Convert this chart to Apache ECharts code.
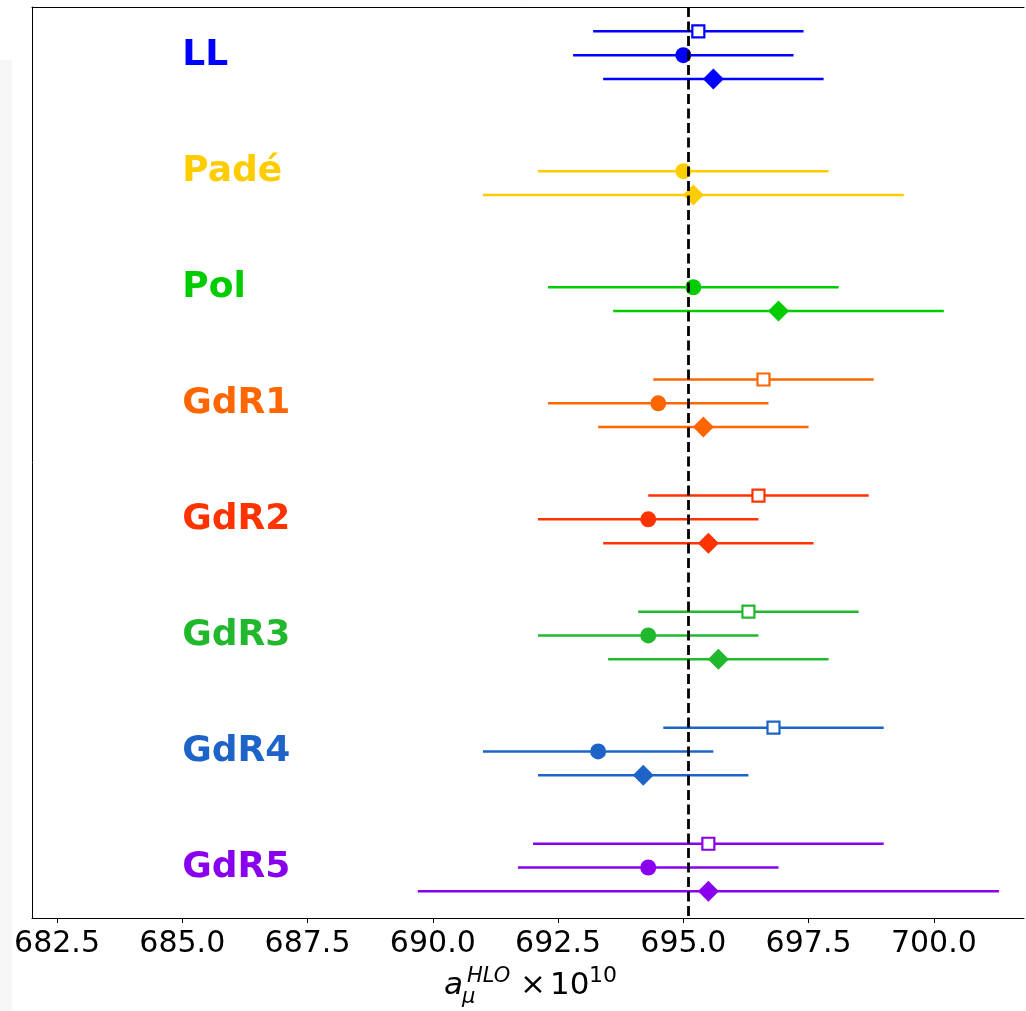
<!DOCTYPE html>
<html>
<head>
<meta charset="utf-8">
<script src="https://cdn.jsdelivr.net/npm/echarts@6/dist/echarts.min.js"></script>
<style>
html, body { margin: 0; padding: 0; background: #fff; }
#chart { width: 1026px; height: 1011px; }
</style>
</head>
<body>
<div id="chart"></div>
<script>
// 方法名称（从上到下）
var groups = ['LL', 'Padé', 'Pol', 'GdR1', 'GdR2', 'GdR3', 'GdR4', 'GdR5'];
var groupColors = ['#0000ff', '#ffcc00', '#00cc00', '#ff6600', '#ff3300', '#22b82d', '#1e64c8', '#8800ee'];

// 空心方块（Padé、Pol 无此点）
var squareVal = [695.3, null, null, 696.6, 696.5, 696.3, 696.8, 695.5];
var squareErr = [2.1, null, null, 2.2, 2.2, 2.2, 2.2, 3.5];
// 圆点
var circleVal = [695.0, 695.0, 695.2, 694.5, 694.3, 694.3, 693.3, 694.3];
var circleErr = [2.2, 2.9, 2.9, 2.2, 2.2, 2.2, 2.3, 2.6];
// 菱形
var diamondVal = [695.6, 695.2, 696.9, 695.4, 695.5, 695.7, 694.2, 695.5];
var diamondErr = [2.2, 4.2, 3.3, 2.1, 2.1, 2.2, 2.1, 5.8];

// 参考竖线
var refValue = 695.1;
// x轴刻度
var xTicks = [682.5, 685.0, 687.5, 690.0, 692.5, 695.0, 697.5, 700.0];
// 文字标签所在的x值
var labelX = 685.0;

// 每组内三行的上下偏移
var rowOffset = { square: -0.205, circle: 0, diamond: 0.205 };

/**
 * 生成误差线数据 [low, high, y, 组序号]
 */
function buildBars(vals, errs, off) {
	var out = [];
	for (var i = 0; i < vals.length; i++) {
		if (vals[i] == null) continue;
		out.push([vals[i] - errs[i], vals[i] + errs[i], i + off, i]);
	}
	return out;
}

/**
 * 生成点数据，hollow 为空心
 */
function buildPoints(vals, off, hollow) {
	var out = [];
	for (var i = 0; i < vals.length; i++) {
		if (vals[i] == null) continue;
		out.push({
			value: [vals[i], i + off],
			itemStyle: hollow
				? { color: '#fff', borderColor: groupColors[i], borderWidth: 2.2, opacity: 1 }
				: { color: groupColors[i], borderWidth: 0, opacity: 1 }
		});
	}
	return out;
}

var barData = []
	.concat(buildBars(squareVal, squareErr, rowOffset.square))
	.concat(buildBars(circleVal, circleErr, rowOffset.circle))
	.concat(buildBars(diamondVal, diamondErr, rowOffset.diamond));

var chart = echarts.init(document.getElementById('chart'), null, { renderer: 'canvas' });

var baseFont = 'DejaVu Sans';

var option = {
	animation: false,
	backgroundColor: '#fff',
	grid: { left: 32, top: 7, right: 2, height: 911, show: false },
	xAxis: [
		{
			type: 'value',
			min: 682,
			max: 701.8,
			splitLine: { show: false },
			axisLine: { show: true, onZero: false, lineStyle: { color: '#000', width: 1 } },
			axisTick: { show: true, length: 5, customValues: xTicks, lineStyle: { color: '#000', width: 1 } },
			axisLabel: {
				show: true,
				customValues: xTicks,
				margin: 11,
				color: '#000',
				fontSize: 30,
				fontFamily: baseFont,
				formatter: function (v) { return v.toFixed(1); }
			}
		},
		{
			// 顶部边框
			type: 'value',
			position: 'top',
			min: 682,
			max: 701.8,
			splitLine: { show: false },
			axisLine: { show: true, onZero: false, lineStyle: { color: '#000', width: 1 } },
			axisTick: { show: false },
			axisLabel: { show: false }
		}
	],
	yAxis: {
		type: 'value',
		inverse: true,
		min: -0.415,
		max: 7.435,
		splitLine: { show: false },
		axisLine: { show: true, onZero: false, lineStyle: { color: '#000', width: 1 } },
		axisTick: { show: false },
		axisLabel: { show: false }
	},
	series: [
		{
			type: 'custom',
			z: 2,
			data: barData,
			encode: { x: [0, 1], y: 2 },
			renderItem: function (params, api) {
				var p1 = api.coord([api.value(0), api.value(2)]);
				var p2 = api.coord([api.value(1), api.value(2)]);
				return {
					type: 'line',
					shape: { x1: p1[0], y1: p1[1], x2: p2[0], y2: p2[1] },
					style: { stroke: groupColors[api.value(3)], lineWidth: 2.5 }
				};
			},
			markLine: {
				silent: true,
				symbol: 'none',
				label: { show: false },
				lineStyle: { color: '#000', type: [10, 4.5], width: 2.8, opacity: 1 },
				data: [{ xAxis: refValue }]
			}
		},
		{
			type: 'scatter', z: 3,
			symbol: 'rect', symbolSize: 12,
			data: buildPoints(squareVal, rowOffset.square, true)
		},
		{
			type: 'scatter', z: 3,
			symbol: 'circle', symbolSize: 16,
			data: buildPoints(circleVal, rowOffset.circle, false)
		},
		{
			type: 'scatter', z: 3,
			symbol: 'diamond', symbolSize: 21,
			data: buildPoints(diamondVal, rowOffset.diamond, false)
		},
		{
			// 方法名称文字
			type: 'scatter', z: 4,
			symbolSize: 0,
			itemStyle: { color: 'rgba(0,0,0,0)', opacity: 1 },
			label: {
				show: true,
				position: 'right',
				distance: 0,
				fontSize: 36,
				fontWeight: 'bold',
				fontFamily: baseFont,
				opacity: 1,
				formatter: function (p) { return groups[p.dataIndex]; }
			},
			data: groups.map(function (g, i) {
				return { value: [labelX, i], label: { color: groupColors[i] } };
			})
		}
	],
	graphic: [
		{ type: 'rect', left: 0, top: 60, shape: { width: 12, height: 951 }, style: { fill: '#f7f7f7' }, z: -1 },
		// 轴标题 a_mu^HLO x 10^10
		{ type: 'text', left: 444, top: 970, style: { text: 'a', font: 'italic 31px "DejaVu Sans"', fill: '#000' } },
		{ type: 'text', left: 467, top: 966, style: { text: 'HLO', font: 'italic 21px "DejaVu Sans"', fill: '#000' } },
		{ type: 'text', left: 462, top: 987, style: { text: 'μ', font: 'italic 21px "DejaVu Sans"', fill: '#000' } },
		{ type: 'text', left: 520, top: 970, style: { text: '×', font: '31px "DejaVu Sans"', fill: '#000' } },
		{ type: 'text', left: 550, top: 970, style: { text: '10', font: '31px "DejaVu Sans"', fill: '#000' } },
		{ type: 'text', left: 589, top: 965, style: { text: '10', font: '22px "DejaVu Sans"', fill: '#000' } }
	]
};

chart.setOption(option);
</script>
</body>
</html>
